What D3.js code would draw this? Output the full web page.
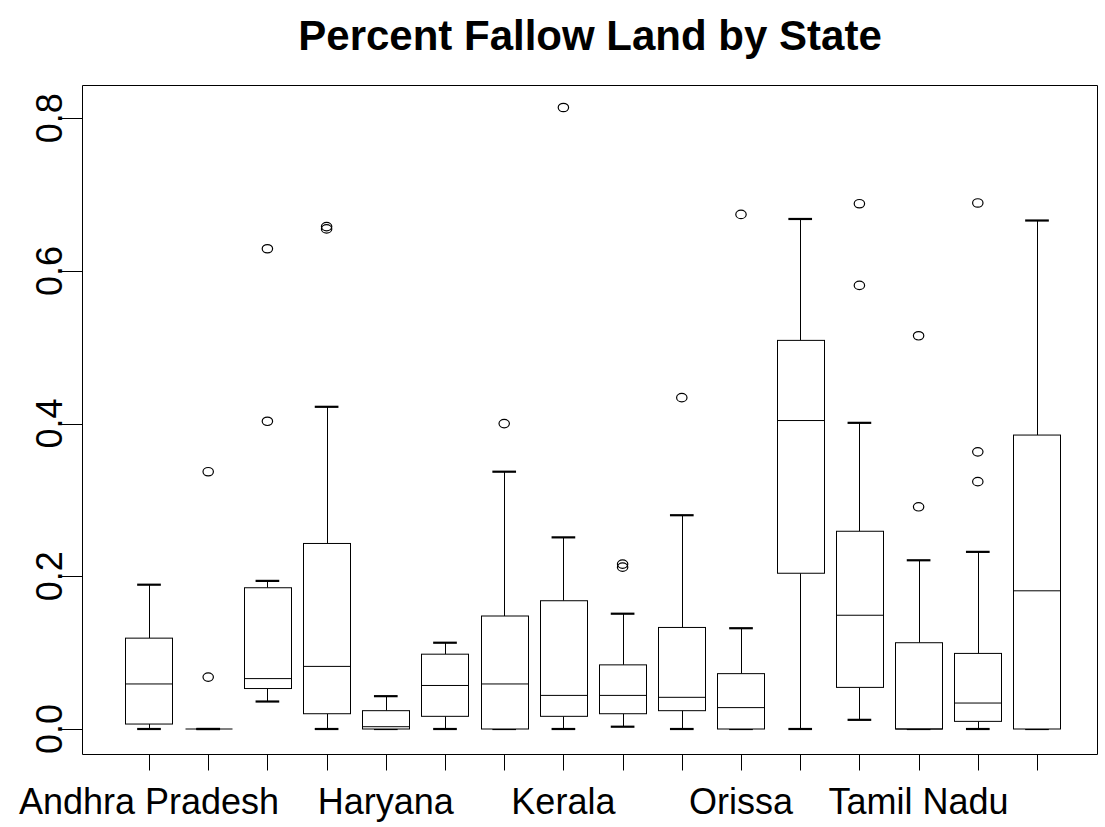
<!DOCTYPE html>
<html>
<head>
<meta charset="utf-8">
<script src="https://cdn.jsdelivr.net/npm/d3@7"></script>
<style>
  html, body { margin: 0; padding: 0; background: #fff; }
  svg { display: block; }
  text { font-family: "Liberation Sans", Arial, Helvetica, sans-serif; fill: #000; }
</style>
</head>
<body>
<svg id="chart" width="1105" height="827"></svg>
<script>
// ---- data ----
const states = ["Andhra Pradesh", "Assam", "Bihar", "Gujarat", "Haryana", "Himachal Pradesh",
  "Karnataka", "Kerala", "Madhya Pradesh", "Maharashtra", "Orissa", "Punjab",
  "Rajasthan", "Tamil Nadu", "Uttar Pradesh", "West Bengal"];
const whiskerLow  = [0, 0, 0.036, 0, 0, 0, 0, 0, 0.003, 0, 0, 0, 0.012, 0, 0, 0];
const q1          = [0.0065, 0, 0.053, 0.020, 0, 0.0166, 0, 0.0166, 0.020, 0.024, 0, 0.204, 0.0545, 0, 0.010, 0];
const median      = [0.059, 0, 0.066, 0.082, 0.003, 0.057, 0.059, 0.044, 0.044, 0.0415, 0.028, 0.404, 0.149, 0, 0.034, 0.181];
const q3          = [0.119, 0, 0.185, 0.243, 0.024, 0.098, 0.148, 0.168, 0.084, 0.133, 0.0725, 0.509, 0.259, 0.113, 0.099, 0.385];
const whiskerHigh = [0.189, 0, 0.194, 0.422, 0.043, 0.113, 0.337, 0.251, 0.151, 0.280, 0.132, 0.668, 0.401, 0.221, 0.232, 0.666];
const outliers = [
  [], [0.068, 0.337], [0.403, 0.629], [0.655, 0.658], [], [], [0.400], [0.814],
  [0.212, 0.216], [0.434], [0.674], [], [0.581, 0.688], [0.291, 0.515], [0.324, 0.363, 0.689], []
];
const yTicks = [0, 0.2, 0.4, 0.6, 0.8];
const titleText = "Percent Fallow Land by State";

// ---- scales ----
const svg = d3.select("#chart");
const x = d3.scaleLinear().domain([1, 16]).range([149, 1037]);
const y = d3.scaleLinear().domain([0, 0.8]).range([729, 118.2]);
const step = x(2) - x(1);
const boxW = 0.8 * step;
const capW = 0.5 * boxW;

// plot frame
const frameL = 82.5, frameR = 1097.5;
const frameT = Math.round(y(0.8436)) + 0.5, frameB = Math.round(y(-0.0327)) + 0.5;
svg.append("path")
  .attr("d", `M${frameL},${frameT}H${frameR}V${frameB}H${frameL}Z`)
  .attr("fill", "none").attr("stroke", "#000").attr("stroke-width", 1);

// title
svg.append("text").attr("x", 590).attr("y", 50)
  .attr("text-anchor", "middle").attr("font-size", 42).attr("font-weight", "bold")
  .text(titleText);

// y axis
const yAx = svg.append("g");
yTicks.forEach(t => {
  const yy = Math.round(y(t)) + 0.5;
  yAx.append("line").attr("x1", frameL - 23).attr("x2", frameL).attr("y1", yy).attr("y2", yy)
    .attr("stroke", "#000");
  yAx.append("text")
    .attr("transform", `translate(${frameL - 21},${y(t)}) rotate(-90)`)
    .attr("text-anchor", "middle").attr("font-size", 36)
    .text(d3.format(".1f")(t));
});

// x axis ticks
const xAx = svg.append("g");
states.forEach((s, i) => {
  const xx = Math.round(x(i + 1)) + 0.5;
  xAx.append("line").attr("x1", xx).attr("x2", xx).attr("y1", frameB).attr("y2", frameB + 16)
    .attr("stroke", "#000");
});
// labels with R-like overlap suppression
let lastRight = -Infinity;
states.forEach((s, i) => {
  const t = xAx.append("text").attr("x", x(i + 1)).attr("y", 814)
    .attr("text-anchor", "middle").attr("font-size", 36).text(s);
  const w = t.node().getComputedTextLength();
  const l = x(i + 1) - w / 2;
  if (l < lastRight + 8) { t.remove(); } else { lastRight = l + w; }
});

// boxes
const g = svg.append("g").attr("stroke", "#000").attr("fill", "none");
states.forEach((s, i) => {
  const cx = x(i + 1);
  const cxr = Math.round(cx) + 0.5;
  g.append("line").attr("x1", cxr).attr("x2", cxr).attr("y1", y(q3[i])).attr("y2", y(whiskerHigh[i]));
  g.append("line").attr("x1", cxr).attr("x2", cxr).attr("y1", y(q1[i])).attr("y2", y(whiskerLow[i]));
  g.append("line").attr("x1", cx - capW / 2).attr("x2", cx + capW / 2)
    .attr("y1", y(whiskerHigh[i])).attr("y2", y(whiskerHigh[i])).attr("stroke-width", 2.2);
  g.append("line").attr("x1", cx - capW / 2).attr("x2", cx + capW / 2)
    .attr("y1", y(whiskerLow[i])).attr("y2", y(whiskerLow[i])).attr("stroke-width", 2.2);
  g.append("rect").attr("x", Math.round(cx - boxW / 2) + 0.5).attr("y", y(q3[i]))
    .attr("width", Math.round(boxW)).attr("height", Math.max(0, y(q1[i]) - y(q3[i])))
    .attr("fill", "#fff");
  g.append("line").attr("x1", Math.round(cx - boxW / 2) + 0.5).attr("x2", Math.round(cx - boxW / 2) + 0.5 + Math.round(boxW))
    .attr("y1", y(median[i])).attr("y2", y(median[i]));
  outliers[i].forEach(v => {
    g.append("ellipse").attr("cx", cx).attr("cy", y(v)).attr("rx", 5.2).attr("ry", 4.2)
      .attr("stroke-width", 1.2);
  });
});
</script>
</body>
</html>
